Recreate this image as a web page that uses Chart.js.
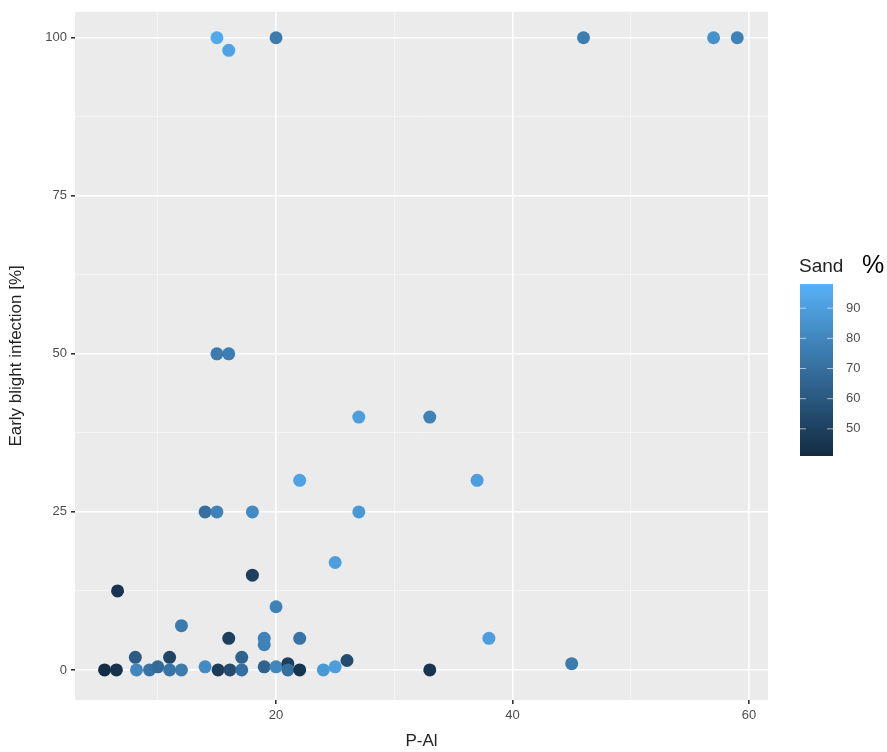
<!DOCTYPE html>
<html><head><meta charset="utf-8">
<script src="https://cdn.jsdelivr.net/npm/chart.js"></script>
<style>html,body{margin:0;padding:0;background:#fff}canvas{display:block}</style>
</head><body>
<div style="width:887px;height:752px"><canvas id="c"></canvas></div>
<script>
const pAl =   [6.6,5.5,6.5,8.1,8.2,9.3,10,11,11,12,12,14,15.1,16.1,16,17.1,17.1,18,19,19,19,20,20,21,21,22,22,24,25,26,25,15,16,20,46,57,59,15,16,27,33,22,37,14,15,18,27,33,38,45];
const infection = [12.5,0,0,2,0,0,0.5,2,0,0,7,0.5,0,0,5,2,0,15,5,4,0.5,0.5,10,1,0,0,5,0,0.5,1.5,17,100,98,100,100,100,100,50,50,40,40,30,30,25,25,25,25,0,5,1];
const sand =  [45,42,44,62,80,72,68,52,72,75,75,82,48,55,50,65,70,50,78,78,65,80,78,50,70,45,72,88,90,55,90,95,92,75,76,85,78,75,76,90,78,92,90,70,78,82,88,45,90,75];
const xTicks = [20,40,60];
const yTicks = [0,25,50,75,100];
const sandTicks = [50,60,70,80,90];
const SMIN=41, SMAX=98;
const lo=[19,43,67], hi=[86,177,247];
function col(v){const t=Math.max(0,Math.min(1,(v-SMIN)/(SMAX-SMIN)));const c=lo.map((a,i)=>Math.round(a+(hi[i]-a)*t));return `rgb(${c[0]},${c[1]},${c[2]})`;}
const pts = pAl.map((x,i)=>({x:x,y:infection[i]}));
const bg={id:'bg',beforeDraw(ch){const a=ch.chartArea,g=ch.ctx;g.save();g.fillStyle='#EBEBEB';g.fillRect(a.left,a.top,a.right-a.left,a.bottom-a.top);g.restore();},
afterDraw(ch){const g=ch.ctx;g.save();
 const L=800,T=284,W=33,H=172;
 const gr=g.createLinearGradient(0,T+H,0,T);gr.addColorStop(0,col(SMIN));gr.addColorStop(0.5,col((SMIN+SMAX)/2));gr.addColorStop(1,col(SMAX));
 g.fillStyle=gr;g.fillRect(L,T,W,H);
 g.fillStyle='#222';g.font='19px "Liberation Sans", Arial';g.textBaseline='alphabetic';g.fillText('Sand',799,272);
 g.font='25px "Liberation Sans", Arial';g.fillStyle='#000';g.fillText('%',862,273);
 g.font='13px "Liberation Sans", Arial';g.fillStyle='#4d4d4d';g.textBaseline='middle';
 sandTicks.forEach(v=>{const y=T+H-(v-SMIN)/(SMAX-SMIN)*H;g.strokeStyle='rgba(255,255,255,0.6)';g.lineWidth=1;g.beginPath();g.moveTo(L,y);g.lineTo(L+6,y);g.moveTo(L+W-6,y);g.lineTo(L+W,y);g.stroke();g.fillText(String(v),846,y);});
 g.restore();}};
function gridCol(major){return c=>{const v=c.tick&&c.tick.value;return major.includes(v)?'#FFFFFF':'rgba(255,255,255,0.6)';};}
new Chart(document.getElementById('c'),{type:'scatter',
data:{datasets:[{data:pts,pointRadius:6.5,pointHoverRadius:6.5,borderWidth:0,backgroundColor:sand.map(col)}]},
options:{responsive:true,maintainAspectRatio:false,animation:false,events:[],
layout:{padding:{left:6,right:119,top:0,bottom:0}},
plugins:{legend:{display:false},tooltip:{enabled:false}},
scales:{
x:{type:'linear',min:3,max:61.6,
 afterBuildTicks:s=>{s.ticks=[10,20,30,40,50,60].map(v=>({value:v}));},
 afterFit:s=>{s.height=52;},
 ticks:{color:'#4d4d4d',font:{size:13,family:'Liberation Sans'},padding:4,maxRotation:0,autoSkip:false,callback:v=>xTicks.includes(v)?String(v):''},
 grid:{color:gridCol(xTicks),lineWidth:c=>xTicks.includes(c.tick&&c.tick.value)?1.6:0.8,drawTicks:true,tickLength:4,tickColor:c=>xTicks.includes(c.tick&&c.tick.value)?'#333':'rgba(0,0,0,0)'},
 border:{display:false},
 title:{display:true,text:'P-Al',color:'#222',font:{size:17,family:'Liberation Sans'},padding:{top:2,bottom:0}}},
y:{type:'linear',min:-4.75,max:104.1,
 afterBuildTicks:s=>{s.ticks=[0,12.5,25,37.5,50,62.5,75,87.5,100].map(v=>({value:v}));},
 afterFit:s=>{s.width=69;},
 ticks:{color:'#4d4d4d',font:{size:13,family:'Liberation Sans'},padding:4,autoSkip:false,callback:v=>yTicks.includes(v)?String(v):''},
 grid:{color:gridCol(yTicks),lineWidth:c=>yTicks.includes(c.tick&&c.tick.value)?1.6:0.8,drawTicks:true,tickLength:4,tickColor:c=>yTicks.includes(c.tick&&c.tick.value)?'#333':'rgba(0,0,0,0)'},
 border:{display:false},
 title:{display:true,text:'Early blight infection [%]',color:'#222',font:{size:17,family:'Liberation Sans'},padding:{top:0,bottom:4}}}
}},plugins:[bg]});
</script></body></html>
